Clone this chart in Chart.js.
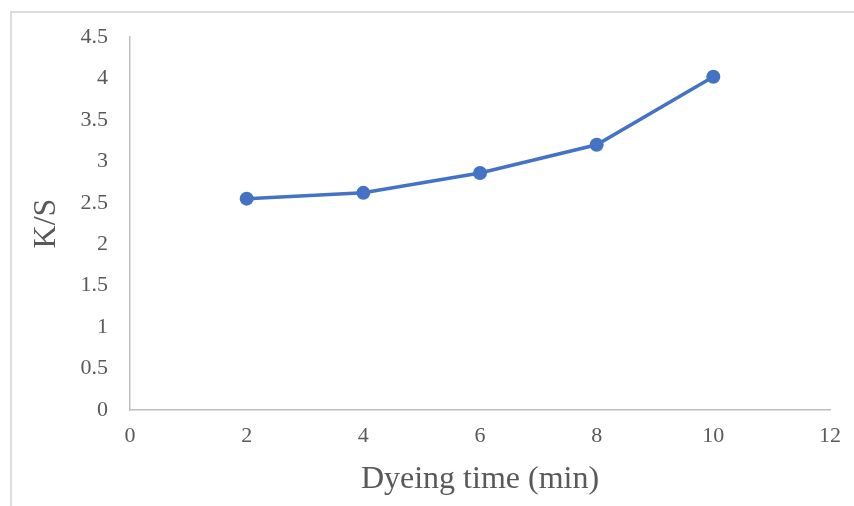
<!DOCTYPE html>
<html>
<head>
<meta charset="utf-8">
<script src="https://cdn.jsdelivr.net/npm/chart.js@4"></script>
<style>
  html, body { margin: 0; padding: 0; background: #ffffff; overflow: hidden; }
  #wrap { position: relative; width: 854px; height: 506px; }
  #frame { position: absolute; left: 10px; top: 11px; width: 900px; height: 600px; border: 2px solid #dcdcdc; box-sizing: border-box; }
  #c { position: absolute; left: 0; top: 0; }
</style>
</head>
<body>
<div id="wrap">
  <div id="frame"></div>
  <canvas id="c" width="854" height="506"></canvas>
</div>
<script>
const dyeingTimes = [2, 4, 6, 8, 10];
const ksValues = [2.55, 2.62, 2.86, 3.20, 4.02];
const xTitle = 'Dyeing time (min)';
const yTitle = 'K/S';

const textColor = '#595959';
const axisColor = '#bfbfbf';
const fontFamily = '"Liberation Serif", "Times New Roman", serif';

new Chart(document.getElementById('c'), {
  type: 'scatter',
  data: {
    datasets: [{
      data: dyeingTimes.map((x, i) => ({ x: x, y: ksValues[i] })),
      showLine: true,
      borderColor: '#4472C4',
      backgroundColor: '#4472C4',
      borderWidth: 3.5,
      pointRadius: 7,
      pointHoverRadius: 7,
      pointBorderWidth: 0,
      tension: 0,
      clip: false
    }]
  },
  options: {
    responsive: false,
    animation: false,
    devicePixelRatio: 1,
    layout: { padding: { left: 0, top: 37, right: 24, bottom: 0 } },
    plugins: { legend: { display: false }, tooltip: { enabled: false } },
    scales: {
      x: {
        type: 'linear',
        min: 0, max: 12,
        ticks: { stepSize: 2, color: textColor, padding: 13, font: { family: fontFamily, size: 22 }, callback: (v) => String(v) },
        grid: { display: true, drawOnChartArea: false, drawTicks: false },
        border: { display: true, color: axisColor, width: 1.5 },
        title: { display: true, text: xTitle, color: textColor, font: { family: fontFamily, size: 32 }, padding: { top: 0, bottom: 7 } },
        afterFit: (s) => { s.height = 96; }
      },
      y: {
        type: 'linear',
        min: 0, max: 4.5,
        ticks: { stepSize: 0.5, color: textColor, padding: 22, font: { family: fontFamily, size: 22 }, callback: (v) => String(v) },
        grid: { display: true, drawOnChartArea: false, drawTicks: false },
        border: { display: true, color: axisColor, width: 1.5 },
        title: { display: true, text: yTitle, color: textColor, font: { family: fontFamily, size: 32 }, padding: { top: 27, bottom: 0 } },
        afterFit: (s) => { s.width = 130; }
      }
    }
  }
});
</script>
</body>
</html>
